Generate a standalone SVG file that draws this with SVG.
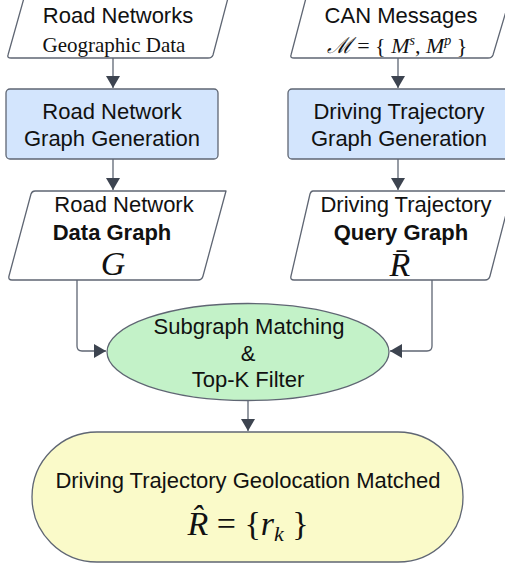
<svg xmlns="http://www.w3.org/2000/svg" width="505" height="567" viewBox="0 0 505 567">
<defs>
<style>
.sh{stroke:#5f6673;stroke-width:1.3;stroke-linejoin:round}
.io{fill:#ffffff}
.pr{fill:#d3e5fd}
.t{font-family:"Liberation Sans",Arial,sans-serif;font-size:22px;fill:#111;text-anchor:middle}
.b{font-weight:bold}
.s{font-family:"Liberation Serif","Times New Roman",serif;fill:#111;text-anchor:middle}
.m{font-family:"Liberation Serif","Times New Roman",serif;font-style:italic;fill:#111;text-anchor:middle}
.c{fill:none;stroke:#5f6673;stroke-width:1.3}
</style>
<marker id="ah2" viewBox="0 0 12 14" refX="12" refY="7" markerWidth="12" markerHeight="14" markerUnits="userSpaceOnUse" orient="auto">
<path d="M0,0 L12,7 L0,14 Z" fill="#3d4450"/>
</marker>
</defs>
<rect width="505" height="567" fill="#ffffff"/>

<g id="connectors">
<line class="c" x1="113" y1="58" x2="113" y2="88" marker-end="url(#ah2)"/>
<line class="c" x1="113" y1="159" x2="113" y2="190" marker-end="url(#ah2)"/>
<line class="c" x1="398" y1="58" x2="398" y2="88" marker-end="url(#ah2)"/>
<line class="c" x1="398" y1="159" x2="398" y2="190" marker-end="url(#ah2)"/>
<path class="c" d="M77,280 V346 Q77,351 82,351 H106" marker-end="url(#ah2)"/>
<path class="c" d="M432,280 V346 Q432,351 427,351 H390" marker-end="url(#ah2)"/>
<line class="c" x1="248" y1="401" x2="248" y2="431" marker-end="url(#ah2)"/>
</g>

<g id="road-networks">
<path class="sh io" d="M24,-2 H228 L213,55 Q212,58 208,58 H11 Q7,58 8,55 Z"/>
<text class="t" x="118" y="23">Road Networks</text>
<text class="s" x="114" y="52" font-size="21">Geographic Data</text>
</g>

<g id="can-messages">
<path class="sh io" d="M306,-2 H510 L493,55 Q492,58 488,58 H294 Q290,58 291,55 Z"/>
<text class="t" x="401" y="23">CAN Messages</text>
<text class="m" x="397" y="53" font-size="22">ℳ <tspan font-style="normal">= {</tspan> M<tspan font-size="14" dy="-8">s</tspan><tspan dy="8" font-style="normal">, </tspan>M<tspan font-size="14" dy="-8">p</tspan><tspan dy="8" font-style="normal"> }</tspan></text>
</g>

<g id="road-graph-gen">
<rect class="sh pr" x="6" y="89" width="212" height="70" rx="4"/>
<text class="t" x="112" y="119">Road Network</text>
<text class="t" x="112" y="146">Graph Generation</text>
</g>

<g id="traj-graph-gen">
<rect class="sh pr" x="288" y="89" width="222" height="70" rx="4"/>
<text class="t" x="399" y="119">Driving Trajectory</text>
<text class="t" x="399" y="146">Graph Generation</text>
</g>

<g id="data-graph">
<path class="sh io" d="M35,191 H226 L203,276 Q202,280 198,280 H12 Q8,280 9,276 L31,194 Q32,191 35,191 Z"/>
<text class="t" x="124" y="212">Road Network</text>
<text class="t b" x="112" y="240">Data Graph</text>
<text class="m" x="113" y="275" font-size="34">G</text>
</g>

<g id="query-graph">
<path class="sh io" d="M313,191 H512 L490,276 Q489,280 485,280 H294 Q290,280 291,276 L310,194 Q311,191 313,191 Z"/>
<text class="t" x="406" y="212">Driving Trajectory</text>
<text class="t b" x="401" y="240">Query Graph</text>
<text class="m" x="400" y="276" font-size="34">R̄</text>
</g>

<g id="subgraph-matching">
<ellipse class="sh" cx="248" cy="352" rx="141" ry="48.5" fill="#c3f2c8"/>
<text class="t" x="249" y="334">Subgraph Matching</text>
<text class="t" x="248" y="361">&amp;</text>
<text class="t" x="248" y="387">Top-K Filter</text>
</g>

<g id="geolocation-matched">
<rect class="sh" x="32" y="432" width="431" height="130" rx="65" fill="#fafac9"/>
<text class="t" x="248" y="488">Driving Trajectory Geolocation Matched</text>
<text class="m" x="248" y="535" font-size="34">R̂ <tspan font-style="normal">= {</tspan>r<tspan font-size="22" dy="6">k</tspan><tspan font-style="normal" dy="-6"> }</tspan></text>
</g>
</svg>
